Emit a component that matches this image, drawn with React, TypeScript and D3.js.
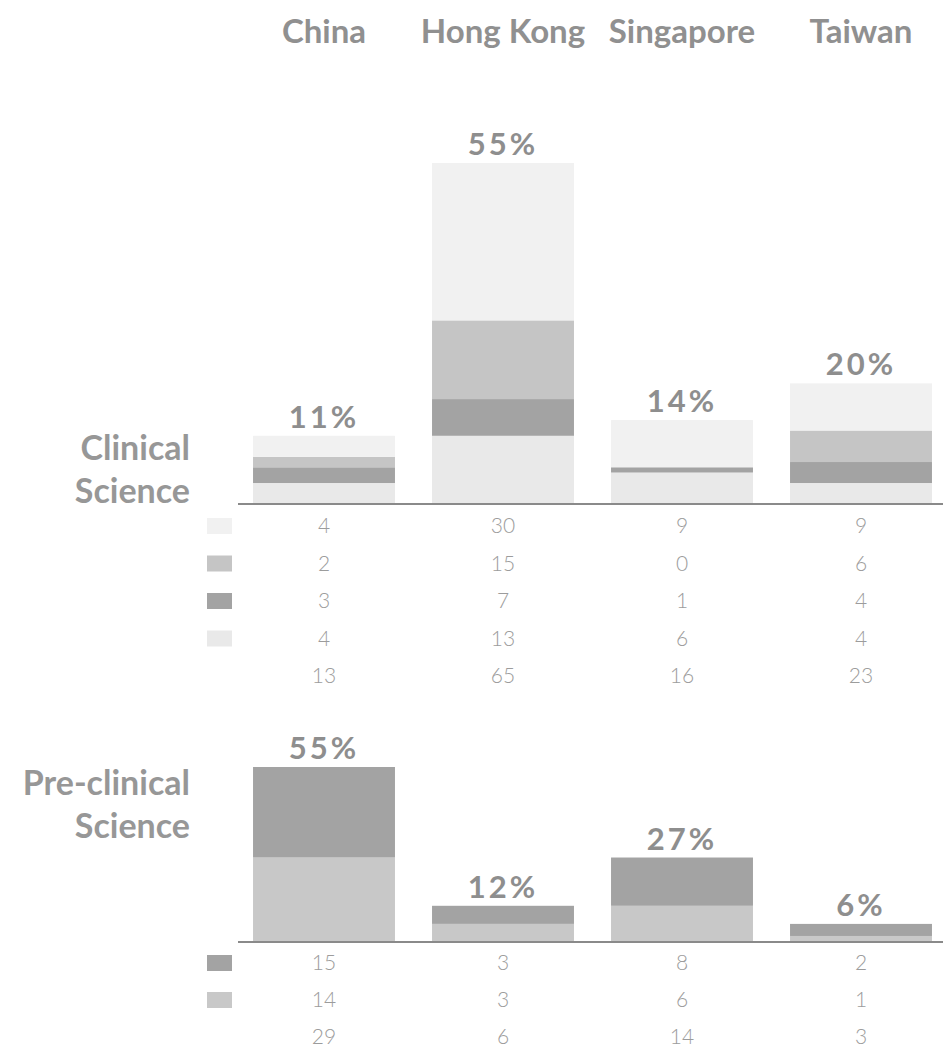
import React from "react";
import * as d3 from "d3";

// Countries along the top
const countries = ["China", "Hong Kong", "Singapore", "Taiwan"];

// Clinical Science: four stacked groups, listed top row first (top of stack first)
const clinicalSeries = [
  [4, 30, 9, 9],
  [2, 15, 0, 6],
  [3, 7, 1, 4],
  [4, 13, 6, 4],
];
const clinicalTotals = [13, 65, 16, 23];
const clinicalPercent = ["11%", "55%", "14%", "20%"];
const clinicalColors = ["#f1f1f1", "#c5c5c5", "#a3a3a3", "#e9e9e9"];

// Pre-clinical Science: two stacked groups, top row first
const preclinicalSeries = [
  [15, 3, 8, 2],
  [14, 3, 6, 1],
];
const preclinicalTotals = [29, 6, 14, 3];
const preclinicalPercent = ["55%", "12%", "27%", "6%"];
const preclinicalColors = ["#a3a3a3", "#c8c8c8"];

const W = 943;
const H = 1047;

const FONT = "Lato, 'Open Sans', sans-serif";

type PanelProps = {
  series: number[][];
  totals: number[];
  percents: string[];
  colors: string[];
  baseline: number;
  maxValue: number;
  maxTop: number;
  rowStart: number;
  rowStep: number;
  labelLines: string[];
  labelBaseline: number;
  x: d3.ScaleBand<string>;
};

function Panel(p: PanelProps) {
  const y = d3.scaleLinear().domain([0, p.maxValue]).range([p.baseline, p.maxTop]);

  // Stack from the bottom row upward (last listed series sits on the axis)
  const bottomUp = [...p.series].reverse();
  const bottomColors = [...p.colors].reverse();
  const rows = countries.map((c, i) => {
    const o: Record<string, number | string> = { country: c };
    bottomUp.forEach((s, k) => (o["s" + k] = s[i]));
    return o;
  });
  const keys = bottomUp.map((_, k) => "s" + k);
  const stacked = d3.stack<Record<string, number | string>>().keys(keys)(rows as any);

  const bw = p.x.bandwidth();

  return (
    <g>
      {/* stacked bars */}
      {stacked.map((layer, k) => (
        <g key={k} fill={bottomColors[k]}>
          {layer.map((d, i) => {
            const y0 = y(d[0]);
            const y1 = y(d[1]);
            if (y0 - y1 <= 0) return null;
            return (
              <rect
                key={i}
                x={p.x(countries[i])}
                y={y1}
                width={bw}
                height={y0 - y1}
              />
            );
          })}
        </g>
      ))}

      {/* percentage labels above each bar */}
      {countries.map((c, i) => (
        <text
          key={c}
          x={(p.x(c) as number) + bw / 2}
          y={y(p.totals[i]) - 8}
          textAnchor="middle"
          fontFamily={FONT}
          fontWeight={700}
          fontSize={31}
          letterSpacing={3}
          fill="#8e8e8e"
        >
          {p.percents[i]}
        </text>
      ))}

      {/* axis baseline */}
      <line x1={238} x2={W} y1={p.baseline} y2={p.baseline} stroke="#8a8a8a" strokeWidth={2} />

      {/* row label */}
      {p.labelLines.map((t, i) => (
        <text
          key={t}
          x={190}
          y={p.labelBaseline + i * 43}
          textAnchor="end"
          fontFamily={FONT}
          fontWeight={700}
          fontSize={34}
          fill="#979797"
        >
          {t}
        </text>
      ))}

      {/* table of counts with swatches */}
      {p.series.map((s, r) => {
        const cy = p.rowStart + r * p.rowStep;
        return (
          <g key={r}>
            <rect x={207} y={cy - 8} width={25} height={16} fill={p.colors[r]} />
            {s.map((v, i) => (
              <text
                key={i}
                x={(p.x(countries[i]) as number) + bw / 2}
                y={cy + 7}
                textAnchor="middle"
                fontFamily={FONT}
                fontWeight={300}
                fontSize={21}
                fill="#9c9c9c"
              >
                {v}
              </text>
            ))}
          </g>
        );
      })}
      {p.totals.map((v, i) => (
        <text
          key={i}
          x={(p.x(countries[i]) as number) + bw / 2}
          y={p.rowStart + p.series.length * p.rowStep + 7}
          textAnchor="middle"
          fontFamily={FONT}
          fontWeight={300}
          fontSize={21}
          fill="#9c9c9c"
        >
          {v}
        </text>
      ))}
    </g>
  );
}

export default function App() {
  const x = d3
    .scaleBand<string>()
    .domain(countries)
    .range([234.5, 950.5])
    .paddingInner(0.207)
    .paddingOuter(0.1035);

  return (
    <div style={{ position: "absolute", left: 0, top: 0 }}>
      <svg width={W} height={H} style={{ display: "block", background: "#ffffff" }}>
        {/* column headers */}
        {countries.map((c) => (
          <text
            key={c}
            x={(x(c) as number) + x.bandwidth() / 2}
            y={43}
            textAnchor="middle"
            fontFamily={FONT}
            fontWeight={700}
            fontSize={33}
            fill="#909090"
          >
            {c}
          </text>
        ))}

        <Panel
          series={clinicalSeries}
          totals={clinicalTotals}
          percents={clinicalPercent}
          colors={clinicalColors}
          baseline={504}
          maxValue={65}
          maxTop={163}
          rowStart={526}
          rowStep={37.5}
          labelLines={["Clinical", "Science"]}
          labelBaseline={460}
          x={x}
        />

        <Panel
          series={preclinicalSeries}
          totals={preclinicalTotals}
          percents={preclinicalPercent}
          colors={preclinicalColors}
          baseline={942}
          maxValue={29}
          maxTop={767}
          rowStart={963}
          rowStep={37}
          labelLines={["Pre-clinical", "Science"]}
          labelBaseline={795}
          x={x}
        />
      </svg>
    </div>
  );
}
